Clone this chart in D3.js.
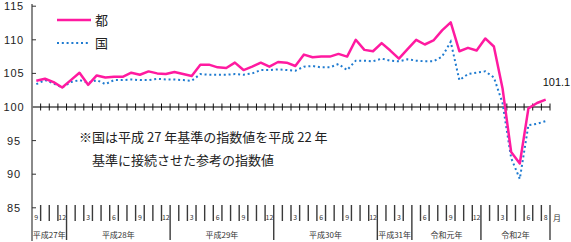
<!DOCTYPE html>
<html><head><meta charset="utf-8">
<script src="https://cdn.jsdelivr.net/npm/d3@7/dist/d3.min.js"></script>
<style>
body{margin:0;background:#fff;}
svg{display:block;font-family:"Liberation Sans","DejaVu Sans",sans-serif;}
.jp{font-family:"Noto Sans CJK JP","Noto Sans CJK SC",sans-serif;}
</style></head>
<body>
<svg id="chart" width="571" height="242"></svg>
<script>
// month number of each category (Sep 2015 .. Aug 2020)
const months = [9,10,11,12,
  1,2,3,4,5,6,7,8,9,10,11,12,
  1,2,3,4,5,6,7,8,9,10,11,12,
  1,2,3,4,5,6,7,8,9,10,11,12,
  1,2,3,4,
  5,6,7,8,9,10,11,12,
  1,2,3,4,5,6,7,8];
const yearLabels = ["平成27年","平成28年","平成29年","平成30年","平成31年","令和元年","令和2年"];
const yearCounts = [4,12,12,12,4,8,8];
const tokyo = [103.9,104.2,103.7,102.9,104.0,105.1,103.3,104.7,104.4,104.5,
  104.5,105.1,104.8,105.3,105.0,104.9,105.2,104.9,104.6,106.3,
  106.3,105.9,105.8,106.6,105.5,106.0,106.6,106.0,106.7,106.6,
  106.1,107.8,107.4,107.5,107.5,107.9,107.5,110.0,108.5,108.3,
  109.5,108.4,107.2,108.6,110.0,109.3,109.9,111.4,112.6,108.3,
  108.8,108.4,110.2,109.0,102.8,93.3,91.6,99.8,100.6,101.1];
const national = [103.4,104.0,103.5,102.9,103.7,104.0,103.6,104.0,103.4,104.0,
  104.0,104.1,104.0,104.0,104.2,104.1,104.1,104.0,103.9,104.9,
  104.8,104.8,104.8,104.9,104.8,105.0,105.5,105.5,105.6,105.5,
  105.4,106.0,106.1,105.9,105.9,106.4,105.5,106.9,106.9,106.8,
  107.2,106.9,106.8,107.1,106.9,106.8,106.8,107.5,109.7,104.0,
  104.9,105.1,105.3,104.4,100.6,92.4,89.3,97.3,97.5,97.9];
const yTicks = [85,90,95,100,105,110,115];
const seriesNames = ["都","国"];
const lastLabel = "101.1";
const noteLines = ["※国は平成 27 年基準の指数値を平成 22 年","基準に接続させた参考の指数値"];

const svg = d3.select("#chart");
const x = d3.scaleBand().domain(d3.range(months.length)).range([32,550]);
const y = d3.scaleLinear().domain([85,115]).range([207.8,6.2]);
const cx = i => x(i) + x.bandwidth()/2;
const pink = "#ff1aa0", blue = "#1f7bd0";

// y axis line
svg.append("line").attr("x1",32).attr("x2",32).attr("y1",4).attr("y2",241)
  .attr("stroke","#8a8a8a").attr("stroke-width",2);
// y ticks
svg.selectAll(".yt").data(yTicks).enter().append("line")
  .attr("x1",32).attr("x2",36).attr("y1",d=>y(d)).attr("y2",d=>y(d))
  .attr("stroke","#333").attr("stroke-width",1);
svg.selectAll(".yl").data(yTicks).enter().append("text")
  .attr("x",14).attr("y",d=>y(d)+4).attr("text-anchor","middle")
  .attr("font-size",11).attr("letter-spacing",0.8).attr("fill","#222").text(d=>d);

// x axis at 100
svg.append("line").attr("x1",32).attr("x2",550).attr("y1",y(100)).attr("y2",y(100))
  .attr("stroke","#7a7a7a").attr("stroke-width",2);
svg.selectAll(".xt").data(d3.range(1,months.length+1)).enter().append("line")
  .attr("x1",k=>32+k*x.step()).attr("x2",k=>32+k*x.step())
  .attr("y1",y(100)-3.5).attr("y2",y(100)+3.5).attr("stroke","#111").attr("stroke-width",1);

// bottom category band
const yb0 = 205, yb1 = 221, yb2 = 240;
const yearBounds = [0];
yearCounts.forEach(c=>yearBounds.push(yearBounds[yearBounds.length-1]+c));
svg.selectAll(".mt").data(d3.range(1,months.length)).enter().append("line")
  .attr("x1",k=>x(k)).attr("x2",k=>x(k))
  .attr("y1",yb0).attr("y2",k=>yearBounds.includes(k)?yb2:yb1)
  .attr("stroke","#3a3a3a").attr("stroke-width",1.4);
svg.append("line").attr("x1",550).attr("x2",550).attr("y1",yb0).attr("y2",yb2)
  .attr("stroke","#7a7a7a").attr("stroke-width",2);
svg.selectAll(".ml").data(months.map((m,i)=>({m,i})).filter(d=>d.m%3===0||d.i===months.length-1))
  .enter().append("text").attr("class","jp")
  .attr("x",d=>cx(d.i)).attr("y",220).attr("text-anchor","middle")
  .attr("font-size",7).attr("fill","#333").text(d=>d.m);
svg.append("text").attr("class","jp").attr("x",557).attr("y",221).attr("text-anchor","middle")
  .attr("font-size",8).attr("fill","#333").text("月");
svg.selectAll(".yrl").data(yearLabels).enter().append("text").attr("class","jp")
  .attr("x",(d,i)=>(x(yearBounds[i]) + (yearBounds[i+1]<months.length?x(yearBounds[i+1]):550))/2)
  .attr("y",238).attr("text-anchor","middle").attr("font-size",8).attr("fill","#333").text(d=>d);

// lines
const line = d3.line().x((d,i)=>cx(i)).y(d=>y(d));
svg.append("path").datum(national).attr("d",line).attr("fill","none")
  .attr("stroke",blue).attr("stroke-width",2).attr("stroke-dasharray","2,2.8");
svg.append("path").datum(tokyo).attr("d",line).attr("fill","none")
  .attr("stroke",pink).attr("stroke-width",2.5).attr("stroke-linejoin","round");

// last label
svg.append("text").attr("x",cx(months.length-1)-3).attr("y",y(tokyo[tokyo.length-1])-14)
  .attr("font-size",11).attr("fill","#111").text(lastLabel);

// legend
svg.append("line").attr("x1",57).attr("x2",91).attr("y1",20).attr("y2",20)
  .attr("stroke",pink).attr("stroke-width",2.5);
svg.append("line").attr("x1",57).attr("x2",88).attr("y1",43).attr("y2",43)
  .attr("stroke",blue).attr("stroke-width",2).attr("stroke-dasharray","2,2.8");
svg.selectAll(".lg").data(seriesNames).enter().append("text").attr("class","jp")
  .attr("x",95).attr("y",(d,i)=>i===0?25:48).attr("font-size",13).attr("fill","#222").text(d=>d);

// note
svg.selectAll(".note").data(noteLines).enter().append("text").attr("class","jp")
  .attr("x",(d,i)=>i===0?79:92).attr("y",(d,i)=>i===0?141.5:165)
  .attr("font-size",13).attr("fill","#222").text(d=>d);
</script>
</body></html>
